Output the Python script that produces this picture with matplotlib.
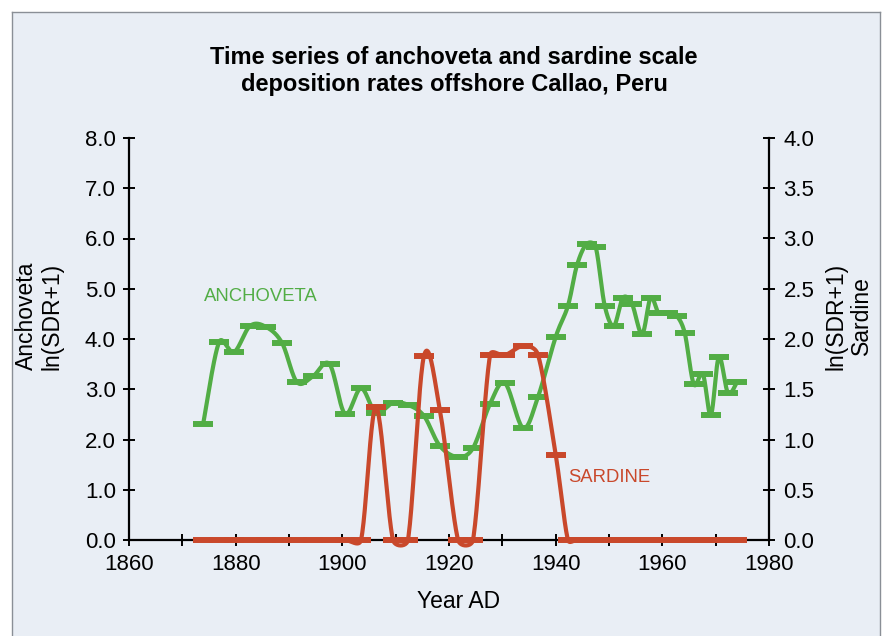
import numpy as np
import matplotlib
matplotlib.use("Agg")
import matplotlib.pyplot as plt
from matplotlib.patches import Rectangle
from matplotlib.lines import Line2D

plt.rcParams['font.family'] = ['Liberation Sans', 'DejaVu Sans']

# ---- data ----
years = [1873.9, 1876.9, 1879.7, 1882.7, 1885.7, 1888.7, 1891.5, 1894.5, 1897.6,
         1900.5, 1903.5, 1906.3, 1909.5, 1912.3, 1915.3, 1918.3, 1921.7, 1924.5,
         1927.7, 1930.5, 1933.9, 1936.7, 1940.0, 1942.3, 1944.0, 1945.8, 1947.5,
         1949.2, 1950.9, 1952.6, 1954.3, 1956.2, 1957.8, 1959.3, 1961.0, 1962.7,
         1964.2, 1965.9, 1967.6, 1969.1, 1970.6, 1972.3, 1974.0]
anchoveta = [2.31, 3.94, 3.74, 4.26, 4.24, 3.92, 3.14, 3.26, 3.50,
             2.51, 3.02, 2.53, 2.73, 2.69, 2.47, 1.87, 1.65, 1.83,
             2.71, 3.12, 2.23, 2.85, 4.04, 4.66, 5.47, 5.89, 5.83,
             4.66, 4.26, 4.82, 4.70, 4.10, 4.82, 4.52, 4.52, 4.46,
             4.12, 3.10, 3.30, 2.49, 3.64, 2.93, 3.14]
sardine = [0, 0, 0, 0, 0, 0, 0, 0, 0,
           0, 0, 1.32, 0, 0, 1.83, 1.29, 0, 0,
           1.84, 1.84, 1.93, 1.84, 0.85, 0, 0, 0, 0,
           0, 0, 0, 0, 0, 0, 0, 0, 0,
           0, 0, 0, 0, 0, 0, 0]
xticks = [1860, 1880, 1900, 1920, 1940, 1960, 1980]
left_ticks = [0, 1, 2, 3, 4, 5, 6, 7, 8]
right_ticks = [0, 0.5, 1, 1.5, 2, 2.5, 3, 3.5, 4]

GREEN = '#52AD45'
RED = '#C9482B'
BG = '#E9EEF5'


def smooth(axis, x, y, n=24):
    """Excel-like smoothed line, computed in display space with clamped tangents."""
    P = axis.transData.transform(np.column_stack([x, y]).astype(float))
    m = len(P)
    D = np.zeros_like(P)
    for i in range(m):
        a = P[max(i - 1, 0)]
        b = P[min(i + 1, m - 1)]
        D[i] = (b - a) / 6.0
    out = []
    t = np.linspace(0, 1, n, endpoint=False)[:, None]
    for i in range(m - 1):
        p1, p2 = P[i], P[i + 1]
        half = np.linalg.norm(p2 - p1) / 2.0
        d1, d2 = D[i].copy(), D[i + 1].copy()
        for d in (d1, d2):
            L = np.linalg.norm(d)
            if L > half and L > 0:
                d *= half / L
        c1 = p1 + d1
        c2 = p2 - d2
        seg = (1 - t) ** 3 * p1 + 3 * (1 - t) ** 2 * t * c1 + 3 * (1 - t) * t ** 2 * c2 + t ** 3 * p2
        out.append(seg)
    out.append(P[-1][None, :])
    out = np.vstack(out)
    back = axis.transData.inverted().transform(out)
    return back[:, 0], back[:, 1]


W, H = 882, 636
fig = plt.figure(figsize=(W / 100, H / 100), dpi=100)
fig.patch.set_facecolor('white')
fig.add_artist(Rectangle((12 / W, 0), (880 - 12) / W, (H - 12) / H,
                         transform=fig.transFigure, facecolor=BG,
                         edgecolor='none', zorder=-10))
for xs, ys in [([12 / W, 880 / W], [1 - 12 / H, 1 - 12 / H]),
               ([12 / W, 12 / W], [0, 1 - 12 / H]),
               ([880 / W, 880 / W], [0, 1 - 12 / H])]:
    fig.add_artist(Line2D(xs, ys, transform=fig.transFigure, color='#8a8f96', lw=1.0))

ax = fig.add_axes([129 / W, 1 - 540 / H, 640 / W, 402 / H])
ax.set_facecolor('none')
ax.set_xlim(1860, 1980)
ax.set_ylim(0, 8)
ax2 = ax.twinx()
ax2.set_ylim(0, 4)

for s in ['top', 'right']:
    ax.spines[s].set_visible(False)
for s in ['top', 'left', 'bottom']:
    ax2.spines[s].set_visible(False)
for sp in [ax.spines['left'], ax.spines['bottom'], ax2.spines['right']]:
    sp.set_linewidth(1.6)
    sp.set_color('black')

ax.set_xticks(xticks)
ax.set_xticks(np.arange(1870, 1980, 20), minor=True)
ax.set_xticklabels([str(v) for v in xticks])
ax.set_yticks(left_ticks)
ax.set_yticklabels([f'{v:.1f}' for v in left_ticks])
ax2.set_yticks(right_ticks)
ax2.set_yticklabels([f'{v:.1f}' for v in right_ticks])

ax.tick_params(axis='x', which='both', direction='inout', length=8, width=1.4,
               labelsize=16, pad=6)
ax.tick_params(axis='y', direction='inout', length=9, width=1.4, labelsize=16, pad=5)
ax2.tick_params(axis='y', direction='inout', length=9, width=1.4, labelsize=16, pad=6)

# anchoveta
sx, sy = smooth(ax, years, anchoveta)
ax.plot(sx, sy, color=GREEN, lw=3.0, solid_capstyle='round', zorder=3, clip_on=False)
ax.plot(years, anchoveta, ls='none', marker='_', ms=14, mew=4.3, color=GREEN,
        zorder=4, clip_on=False)

# sardine
rx, ry = smooth(ax2, years, sardine)
ax2.plot(rx, ry, color=RED, lw=3.0, solid_capstyle='round', zorder=3, clip_on=False)
ax2.plot(years, sardine, ls='none', marker='_', ms=14, mew=4.3, color=RED,
         zorder=4, clip_on=False)

ax.text(1874.1, 4.84, 'ANCHOVETA', color=GREEN, fontsize=13.3, va='center', ha='left')
ax.text(1942.3, 1.25, 'SARDINE', color=RED, fontsize=13.3, va='center', ha='left')

fig.text(454 / W, 1 - 71 / H, 'Time series of anchoveta and sardine scale\ndeposition rates offshore Callao, Peru',
         ha='center', va='center', fontsize=17, fontweight='bold', linespacing=1.2)
fig.text(459 / W, 1 - 601 / H, 'Year AD', ha='center', va='center', fontsize=16.5)
fig.text(39 / W, 1 - 316 / H, 'Anchoveta\nln(SDR+1)', ha='center', va='center',
         rotation=90, fontsize=16.5, linespacing=1.12)
fig.text(849 / W, 1 - 316 / H, 'ln(SDR+1)\nSardine', ha='center', va='center',
         rotation=90, fontsize=16.5, linespacing=1.12)

fig.savefig('out.png', dpi=100, facecolor=fig.get_facecolor())
